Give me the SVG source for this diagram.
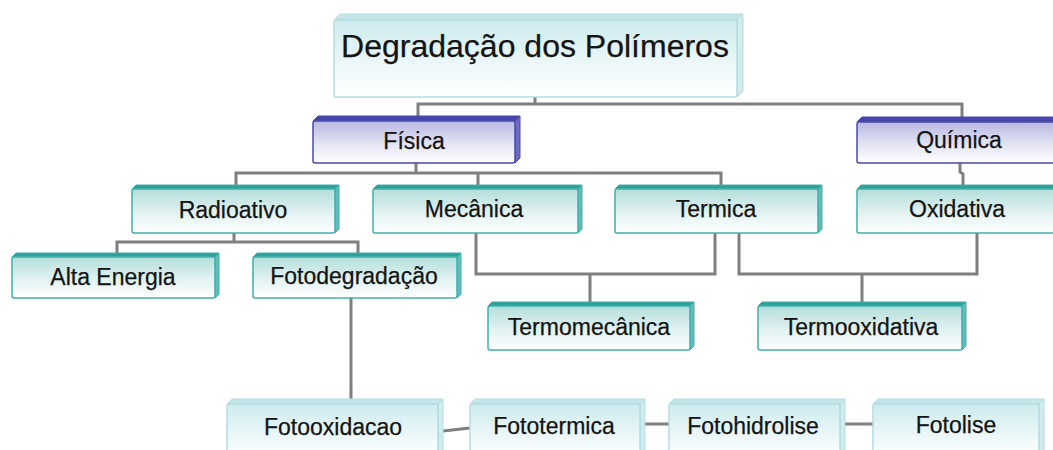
<svg xmlns="http://www.w3.org/2000/svg" width="1053" height="450" viewBox="0 0 1053 450">
<defs>
<linearGradient id="gT" x1="0" y1="0" x2="0" y2="1"><stop offset="0" stop-color="#b3dedb"/><stop offset="0.55" stop-color="#e2f2f1"/><stop offset="1" stop-color="#ffffff"/></linearGradient>
<linearGradient id="gP" x1="0" y1="0" x2="0" y2="1"><stop offset="0" stop-color="#b8b8e2"/><stop offset="0.55" stop-color="#e4e4f4"/><stop offset="1" stop-color="#ffffff"/></linearGradient>
<linearGradient id="gL" x1="0" y1="0" x2="0" y2="1"><stop offset="0" stop-color="#cdebee"/><stop offset="0.6" stop-color="#eef8f9"/><stop offset="1" stop-color="#ffffff"/></linearGradient>
<style>
.t .f{fill:url(#gT);stroke:#3fb0ab;stroke-width:1.5}
.t .tp{fill:#2f9f9a;stroke:#3fb0ab;stroke-width:1}
.t .sd{fill:#62bdb9;stroke:#3fb0ab;stroke-width:1}
.p .f{fill:url(#gP);stroke:#4a4aae;stroke-width:1.5}
.p .tp{fill:#4646aa;stroke:#4a4aae;stroke-width:1}
.p .sd{fill:#6c6cc2;stroke:#4a4aae;stroke-width:1}
.l .f{fill:url(#gL);stroke:#b3dde1;stroke-width:1.5}
.l .tp{fill:#c4e6e9;stroke:#b3dde1;stroke-width:1}
.l .sd{fill:#d2ecee;stroke:#b3dde1;stroke-width:1}
text{font-family:"Liberation Sans",Arial,sans-serif;font-size:23px;fill:#141414;text-anchor:middle;stroke:#141414;stroke-width:0.25}
.big{font-size:32px}
#connectors{fill:none;stroke:#7f7f7f;stroke-width:3}
</style>
</defs>
<rect width="1053" height="450" fill="#ffffff"/>
<g id="connectors">
<polyline points="535,97 535,104"/>
<polyline points="418,118 418,104 962,104 962,119"/>
<polyline points="416,163 416,173"/>
<polyline points="236,186 236,173 721,173 721,186"/>
<polyline points="478,173 478,186"/>
<polyline points="960,163 960,172 963,174 963,186"/>
<polyline points="234,233 234,242"/>
<polyline points="117,254 117,242 358,242 358,254"/>
<polyline points="476,233 476,274 715,274 715,233"/>
<polyline points="590,274 590,302"/>
<polyline points="739,233 739,274 977,274 977,233"/>
<polyline points="862,274 862,302"/>
<polyline points="351,298 351,400"/>
<polyline points="443,431 470,428"/>
<polyline points="640,424 669,424"/>
<polyline points="840,424 873,424"/>
</g>
<g id="n-titulo" class="l">
<polygon class="tp" points="334,20 340,14 743,14 737,20"/>
<polygon class="sd" points="737,20 743,14 743,91 737,97"/>
<rect class="f" x="334" y="20" width="403" height="77" rx="2"/>
<text class="big" x="535" y="57">Degradação dos Polímeros</text>
</g>
<g id="n-fisica" class="p">
<polygon class="tp" points="313,121 318,116 520,116 515,121"/>
<polygon class="sd" points="515,121 520,116 520,158 515,163"/>
<rect class="f" x="313" y="121" width="202" height="42" rx="2"/>
<text x="414" y="149">Física</text>
</g>
<g id="n-quimica" class="p">
<polygon class="tp" points="857,122 862,117 1066,117 1061,122"/>
<rect class="f" x="857" y="122" width="204" height="41" rx="2"/>
<text x="959" y="148">Química</text>
</g>
<g id="n-radioativo" class="t">
<polygon class="tp" points="132,189 136,185 339,185 335,189"/>
<polygon class="sd" points="335,189 339,185 339,229 335,233"/>
<rect class="f" x="132" y="189" width="203" height="44" rx="2"/>
<text x="233" y="218">Radioativo</text>
</g>
<g id="n-mecanica" class="t">
<polygon class="tp" points="373,189 377,185 582,185 578,189"/>
<polygon class="sd" points="578,189 582,185 582,229 578,233"/>
<rect class="f" x="373" y="189" width="205" height="44" rx="2"/>
<text x="474" y="217">Mecânica</text>
</g>
<g id="n-termica" class="t">
<polygon class="tp" points="615,189 619,185 822,185 818,189"/>
<polygon class="sd" points="818,189 822,185 822,229 818,233"/>
<rect class="f" x="615" y="189" width="203" height="44" rx="2"/>
<text x="716" y="217">Termica</text>
</g>
<g id="n-oxidativa" class="t">
<polygon class="tp" points="857,189 861,185 1062,185 1058,189"/>
<rect class="f" x="857" y="189" width="201" height="44" rx="2"/>
<text x="957" y="217">Oxidativa</text>
</g>
<g id="n-alta-energia" class="t">
<polygon class="tp" points="12,257 16,253 219,253 215,257"/>
<polygon class="sd" points="215,257 219,253 219,294 215,298"/>
<rect class="f" x="12" y="257" width="203" height="41" rx="2"/>
<text x="113" y="285">Alta Energia</text>
</g>
<g id="n-fotodegradacao" class="t">
<polygon class="tp" points="253,257 257,253 461,253 457,257"/>
<polygon class="sd" points="457,257 461,253 461,294 457,298"/>
<rect class="f" x="253" y="257" width="204" height="41" rx="2"/>
<text x="354" y="284">Fotodegradação</text>
</g>
<g id="n-termomecanica" class="t">
<polygon class="tp" points="488,306 492,302 694,302 690,306"/>
<polygon class="sd" points="690,306 694,302 694,346 690,350"/>
<rect class="f" x="488" y="306" width="202" height="44" rx="2"/>
<text x="589" y="335">Termomecânica</text>
</g>
<g id="n-termooxidativa" class="t">
<polygon class="tp" points="758,306 762,302 966,302 962,306"/>
<polygon class="sd" points="962,306 966,302 966,346 962,350"/>
<rect class="f" x="758" y="306" width="204" height="44" rx="2"/>
<text x="861" y="335">Termooxidativa</text>
</g>
<g id="n-fotooxidacao" class="l">
<polygon class="tp" points="227,404 232,399 443,399 438,404"/>
<polygon class="sd" points="438,404 443,399 443,455 438,460"/>
<rect class="f" x="227" y="404" width="211" height="56" rx="2"/>
<text x="333" y="435">Fotooxidacao</text>
</g>
<g id="n-fototermica" class="l">
<polygon class="tp" points="470,404 475,399 645,399 640,404"/>
<polygon class="sd" points="640,404 645,399 645,455 640,460"/>
<rect class="f" x="470" y="404" width="170" height="56" rx="2"/>
<text x="554" y="434">Fototermica</text>
</g>
<g id="n-fotohidrolise" class="l">
<polygon class="tp" points="669,404 674,399 845,399 840,404"/>
<polygon class="sd" points="840,404 845,399 845,455 840,460"/>
<rect class="f" x="669" y="404" width="171" height="56" rx="2"/>
<text x="753" y="434">Fotohidrolise</text>
</g>
<g id="n-fotolise" class="l">
<polygon class="tp" points="873,404 878,399 1044,399 1039,404"/>
<polygon class="sd" points="1039,404 1044,399 1044,455 1039,460"/>
<rect class="f" x="873" y="404" width="166" height="56" rx="2"/>
<text x="956" y="433">Fotolise</text>
</g>
</svg>
